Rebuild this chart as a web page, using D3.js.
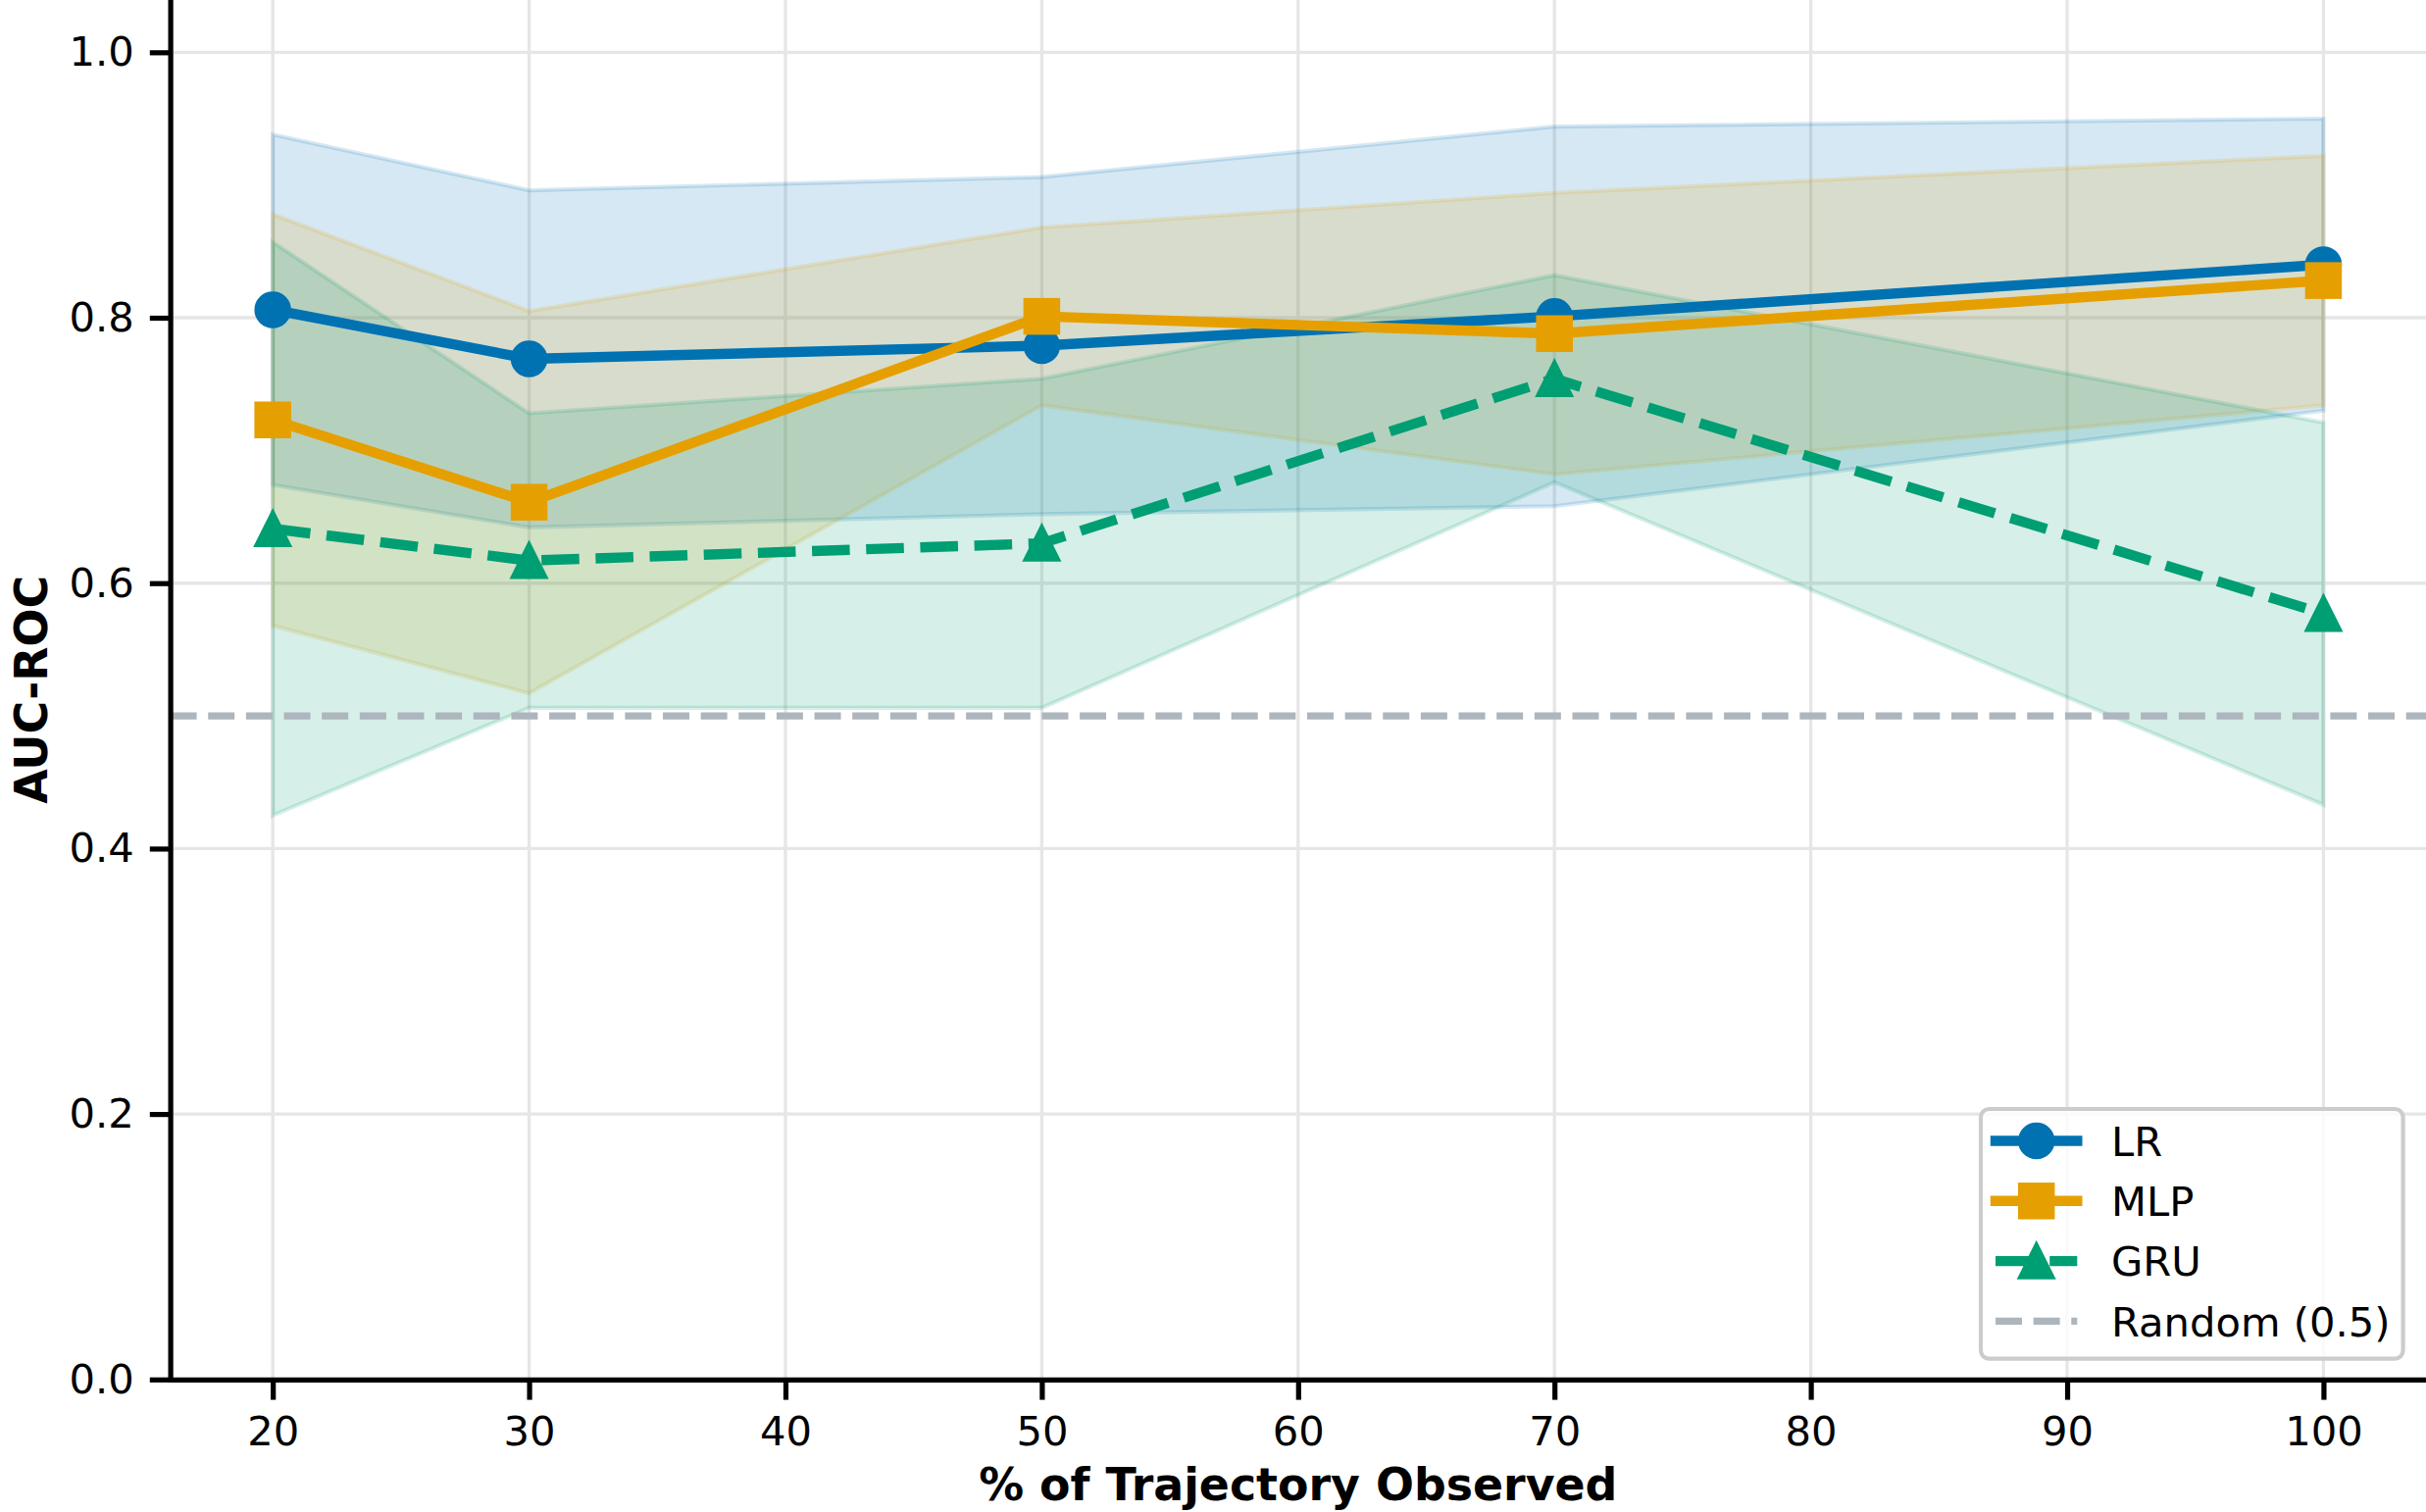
<!DOCTYPE html>
<html>
<head>
<meta charset="utf-8">
<script src="https://cdn.jsdelivr.net/npm/d3@7"></script>
<style>
  body { margin: 0; background: #fff; }
  svg { display: block; font-family: "DejaVu Sans", sans-serif; }
</style>
</head>
<body>
<svg id="chart" width="2474" height="1542"></svg>
<script>
// values (mean AUC-ROC and spread per % observed)
const observed = [20, 30, 50, 70, 100];
const lrMean  = [0.806, 0.769, 0.779, 0.801, 0.840];
const lrStd   = [0.132, 0.127, 0.127, 0.143, 0.110];
const mlpMean = [0.723, 0.661, 0.801, 0.788, 0.828];
const mlpStd  = [0.155, 0.144, 0.067, 0.106, 0.094];
const gruMean = [0.641, 0.617, 0.630, 0.754, 0.577];
const gruStd  = [0.216, 0.111, 0.124, 0.078, 0.144];
const randomAuc = 0.5;
const xTicks = [20, 30, 40, 50, 60, 70, 80, 90, 100];
const yTicks = [0.0, 0.2, 0.4, 0.6, 0.8, 1.0];

const pt = 300 / 72;
const lw = 2.5 * pt, ms = 8 * pt, mew = 1 * pt;

const series = [
  {name: "LR",  mean: lrMean,  std: lrStd,  color: "#0072B2", marker: "circle", dashed: false},
  {name: "MLP", mean: mlpMean, std: mlpStd, color: "#E69F00", marker: "square", dashed: false},
  {name: "GRU", mean: gruMean, std: gruStd, color: "#009E73", marker: "triangle", dashed: true}
];

const svg = d3.select("#chart");
const left = 173.6, right = 2474, bottom = 1406.8;

const x = d3.scaleLinear().domain([16, 104]).range([left, right]);
const y = d3.scaleLinear().domain([0, 1.0394]).range([bottom, 0]);

// grid
const grid = svg.append("g").attr("stroke", "#e6e6e6").attr("stroke-width", 0.8 * pt);
xTicks.forEach(t => grid.append("line")
  .attr("x1", x(t)).attr("x2", x(t)).attr("y1", 0).attr("y2", bottom));
yTicks.forEach(t => grid.append("line")
  .attr("x1", left).attr("x2", right).attr("y1", y(t)).attr("y2", y(t)));

// bands
series.forEach(s => {
  const pts = observed.map((o, i) => ({x: o, lo: s.mean[i] - s.std[i], hi: s.mean[i] + s.std[i]}));
  const area = d3.area().x(d => x(d.x)).y0(d => y(d.lo)).y1(d => y(d.hi));
  svg.append("path").datum(pts)
    .attr("d", area)
    .attr("fill", s.color).attr("fill-opacity", 0.16)
    .attr("stroke", s.color).attr("stroke-opacity", 0.16)
    .attr("stroke-width", pt);
});

function drawMarker(g, type, cx, cy, color) {
  if (type === "circle") {
    g.append("circle").attr("cx", cx).attr("cy", cy).attr("r", ms / 2)
      .attr("fill", color).attr("stroke", color).attr("stroke-width", mew);
  } else if (type === "square") {
    g.append("rect").attr("x", cx - ms / 2).attr("y", cy - ms / 2)
      .attr("width", ms).attr("height", ms)
      .attr("fill", color).attr("stroke", color).attr("stroke-width", mew);
  } else {
    const h = ms / 2;
    g.append("path")
      .attr("d", `M${cx},${cy - h}L${cx - h},${cy + h}L${cx + h},${cy + h}Z`)
      .attr("fill", color).attr("stroke", color).attr("stroke-width", mew)
      .attr("stroke-linejoin", "miter");
  }
}

function styleLine(path, s, width) {
  path.attr("fill", "none")
    .attr("stroke", s.color)
    .attr("stroke-width", width)
    .attr("stroke-linejoin", "round")
    .attr("stroke-linecap", s.dashed ? "butt" : "square")
    .attr("stroke-dasharray", s.dashed ? `${3.7 * width} ${1.6 * width}` : null);
}

// random baseline
const randomStyle = {color: "#adb5bd", dashed: true};
const rlw = 1.75 * pt;

// lines + markers
series.forEach(s => {
  const pts = observed.map((o, i) => ({x: o, y: s.mean[i]}));
  const line = d3.line().x(d => x(d.x)).y(d => y(d.y));
  const g = svg.append("g");
  styleLine(g.append("path").datum(pts).attr("d", line), s, lw);
  pts.forEach(d => drawMarker(g, s.marker, x(d.x), y(d.y), s.color));
});

styleLine(svg.append("line")
  .attr("x1", left).attr("x2", right)
  .attr("y1", y(randomAuc)).attr("y2", y(randomAuc)), randomStyle, rlw);

// axes
const xAxis = svg.append("g")
  .attr("transform", `translate(0,${bottom})`)
  .call(d3.axisBottom(x).tickValues(xTicks).tickSizeInner(20.8).tickSizeOuter(0).tickPadding(17));
const yAxis = svg.append("g")
  .attr("transform", `translate(${left},0)`)
  .call(d3.axisLeft(y).tickValues(yTicks).tickFormat(d3.format(".1f"))
    .tickSizeInner(20.8).tickSizeOuter(0).tickPadding(16));

[xAxis, yAxis].forEach(a => {
  a.select(".domain").attr("stroke", "#000").attr("stroke-width", 1.25 * pt).attr("stroke-linecap", "square");
  a.selectAll(".tick line").attr("stroke", "#000").attr("stroke-width", 1.25 * pt);
  a.selectAll(".tick text").attr("fill", "#000")
    .attr("font-family", "DejaVu Sans").attr("font-size", 10 * pt);
});

svg.append("text")
  .attr("x", (left + right) / 2).attr("y", 1530)
  .attr("text-anchor", "middle")
  .attr("font-size", 11 * pt).attr("font-weight", "bold")
  .text("% of Trajectory Observed");

svg.append("text")
  .attr("transform", `translate(47.5,${bottom / 2}) rotate(-90)`)
  .attr("text-anchor", "middle")
  .attr("font-size", 11 * pt).attr("font-weight", "bold")
  .text("AUC-ROC");

// legend
const legend = svg.append("g");
legend.append("rect")
  .attr("x", 2020).attr("y", 1131).attr("width", 430.6).attr("height", 254.6)
  .attr("rx", 8.3).attr("ry", 8.3)
  .attr("fill", "#fff").attr("fill-opacity", 0.8)
  .attr("stroke", "#cccccc").attr("stroke-width", pt);

const entries = series.concat([{name: "Random (0.5)", color: randomStyle.color, dashed: true, marker: null}]);
entries.forEach((s, i) => {
  const cy = 1163.5 + i * 61.3;
  const width = s.marker ? lw : rlw;
  styleLine(legend.append("line")
    .attr("x1", 2035).attr("x2", 2118.3).attr("y1", cy).attr("y2", cy), s, width);
  if (s.marker) drawMarker(legend, s.marker, 2076.7, cy, s.color);
  legend.append("text")
    .attr("x", 2153).attr("y", cy + 15.2)
    .attr("font-size", 10 * pt)
    .text(s.name);
});
</script>
</body>
</html>
